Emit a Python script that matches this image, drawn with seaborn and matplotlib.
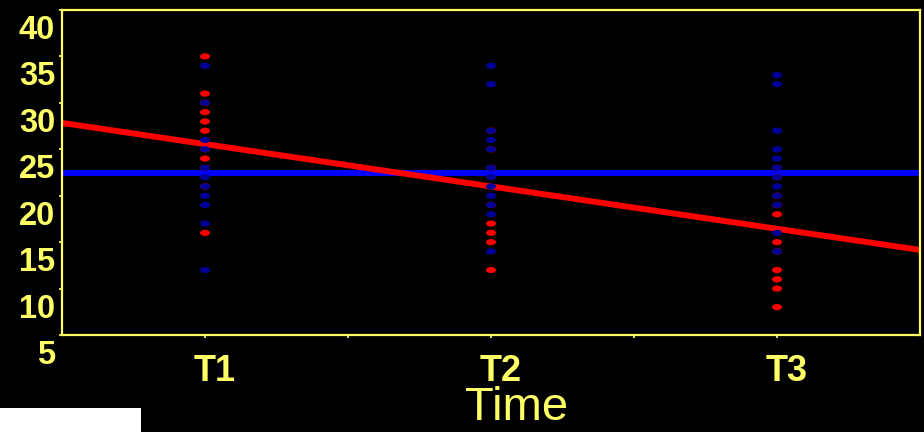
import numpy as np
import pandas as pd
import matplotlib
matplotlib.use("Agg")
import matplotlib.pyplot as plt
from matplotlib.path import Path
from matplotlib.transforms import ScaledTranslation, Affine2D
from matplotlib.patches import Rectangle
import seaborn as sns

# ---- data ----
time_labels = ["T1", "T2", "T3"]
time_positions = [1, 2, 3]

red_t1 = [35, 31, 30, 29, 28, 27, 25, 24, 23, 21, 16]
red_t2 = [27, 25, 23, 19, 17, 16, 15, 12]
red_t3 = [23, 22, 20, 19, 18, 15, 14, 12, 11, 10, 8]

blue_t1 = [34, 30, 26, 25, 23, 22, 21, 20, 19, 17, 12]
blue_t2 = [34, 32, 27, 26, 25, 23, 22, 21, 20, 19, 18, 14]
blue_t3 = [33, 32, 27, 25, 24, 23, 22, 21, 20, 19, 16, 14]

red_trend_intercept = 30.12   # value at x = 0
red_trend_slope = -4.56       # per time step
blue_level = 22.4

y_ticks = [5, 10, 15, 20, 25, 30, 35, 40]

# ---- styling ----
YELLOW = "#ffff66"
RED = "#ff0000"
NAVY = "#000099"
BLUE = "#0000ff"

sns.set_style("dark")
plt.rcParams["font.family"] = ["Liberation Sans", "DejaVu Sans"]

rows = []
for pos, vals in zip(time_positions, [red_t1, red_t2, red_t3]):
    rows += [{"time": pos, "value": v, "group": "red"} for v in vals]
for pos, vals in zip(time_positions, [blue_t1, blue_t2, blue_t3]):
    rows += [{"time": pos, "value": v, "group": "blue"} for v in vals]
df = pd.DataFrame(rows)

fig = plt.figure(figsize=(9.24, 4.32), dpi=100)
fig.patch.set_facecolor("black")
ax = fig.add_axes([62 / 924, 1 - 335 / 432, (920 - 62) / 924, (335 - 10) / 432])
ax.set_facecolor("black")
ax.grid(False)

# trend lines
ax.axhline(blue_level, color=BLUE, lw=4.3, zorder=1)
ax.axline((0, red_trend_intercept), slope=red_trend_slope, color=RED, lw=4.3, zorder=1.5)

# ellipse marker
circ = Path.unit_circle()
ell = Path(Affine2D().scale(1.0, 0.62).transform(circ.vertices), circ.codes)

sns.scatterplot(data=df, x="time", y="value", hue="group",
                palette={"red": RED, "blue": NAVY}, hue_order=["red", "blue"],
                marker=ell, s=52, linewidth=0, edgecolor="none",
                legend=False, ax=ax, zorder=3)

ax.set_xlim(0.5, 3.5)
ax.set_ylim(5, 40)

ax.set_xticks([1, 1.5, 2, 2.5, 3])
ax.set_xticklabels([time_labels[0], "", time_labels[1], "", time_labels[2]])
ax.set_yticks(y_ticks)
ax.set_yticklabels([str(t) for t in y_ticks])

ax.tick_params(axis="x", colors=YELLOW, labelsize=26, length=2, width=1.2,
               direction="out", pad=12, bottom=True)
ax.tick_params(axis="y", colors=YELLOW, labelsize=23.5, length=2, width=1.2,
               direction="out", pad=3, left=True)
for lab in ax.get_xticklabels():
    lab.set_fontweight("bold")
    lab.set_transform(lab.get_transform() + ScaledTranslation(0.10, 0, fig.dpi_scale_trans))
for lab in ax.get_yticklabels():
    lab.set_fontweight("bold")
    lab.set_transform(lab.get_transform() + ScaledTranslation(0, -0.17, fig.dpi_scale_trans))

for sp in ax.spines.values():
    sp.set_visible(True)
    sp.set_color(YELLOW)
    sp.set_linewidth(1.6)

ax.set_ylabel("")
ax.set_xlabel("Time", fontsize=34, color=YELLOW,
              family=["Liberation Sans Narrow", "Liberation Sans", "DejaVu Sans"])
ax.xaxis.label.set_va("baseline")
ax.xaxis.set_label_coords(0.530, -(420 - 335) / 325)

fig.add_artist(Rectangle((0, 0), 141 / 924, 24 / 432, transform=fig.transFigure,
                         facecolor="white", edgecolor="none", zorder=10))

fig.savefig("out.png", dpi=100, facecolor=fig.get_facecolor())
